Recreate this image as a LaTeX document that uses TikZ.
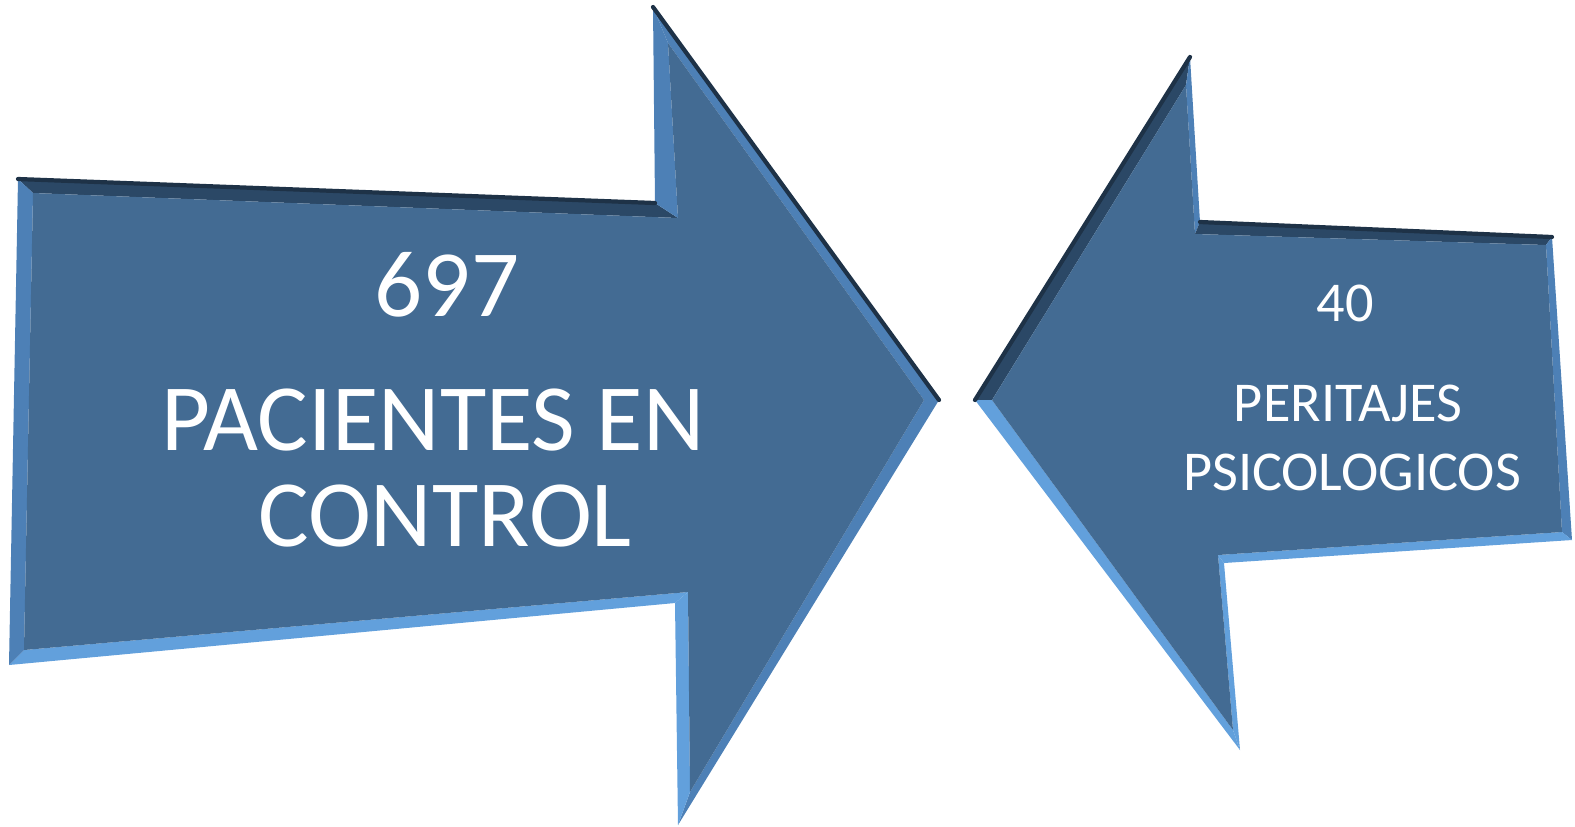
\documentclass[tikz,border=0pt]{standalone}
\usepackage{fontspec}
\setmainfont{Carlito}
\definecolor{faceblue}{HTML}{436B93}
\definecolor{darkblue}{HTML}{2B4866}
\definecolor{midblue}{HTML}{4D80B6}
\definecolor{lightblue}{HTML}{62A0DC}
\definecolor{deepblue}{HTML}{1E3247}
\begin{document}
\begin{tikzpicture}[
    x=0.01cm, y=-0.01cm,
    face/.style={fill=faceblue},
    beveldark/.style={fill=darkblue},
    bevelmid/.style={fill=midblue},
    bevellight/.style={fill=lightblue},
    rim/.style={draw=deepblue, line width=1.2pt, line cap=round},
    label/.style={text=white, anchor=base, inner sep=0pt}
]
    \useasboundingbox (0,0) rectangle (1575,826);

    % left arrow, outer and inner corners
    \coordinate (L1) at (18,179);   \coordinate (l1) at (33,193);
    \coordinate (L2) at (655,203);  \coordinate (l2) at (678,218);
    \coordinate (L3) at (653,7);    \coordinate (l3) at (668,43);
    \coordinate (L4) at (939,400);  \coordinate (l4) at (924,400);
    \coordinate (L5) at (678,825);  \coordinate (l5) at (690,792);
    \coordinate (L6) at (675,603);  \coordinate (l6) at (688,592);
    \coordinate (L7) at (9,665);    \coordinate (l7) at (24,650);

    \fill[beveldark]  (L1) -- (L2) -- (l2) -- (l1) -- cycle;
    \fill[bevelmid]   (L2) -- (L3) -- (l3) -- (l2) -- cycle;
    \fill[bevelmid]   (L3) -- (L4) -- (l4) -- (l3) -- cycle;
    \fill[bevelmid]   (L4) -- (L5) -- (l5) -- (l4) -- cycle;
    \fill[bevellight] (L5) -- (L6) -- (l6) -- (l5) -- cycle;
    \fill[bevellight] (L6) -- (L7) -- (l7) -- (l6) -- cycle;
    \fill[bevelmid]   (L7) -- (L1) -- (l1) -- (l7) -- cycle;
    \fill[face] (l1) -- (l2) -- (l3) -- (l4) -- (l5) -- (l6) -- (l7) -- cycle;
    \draw[rim] (L1) -- (L2);
    \draw[rim] (L3) -- (L4);

    % right arrow, outer and inner corners
    \coordinate (R1) at (975,400);  \coordinate (r1) at (992,400);
    \coordinate (R2) at (1190,57);  \coordinate (r2) at (1186,85);
    \coordinate (R3) at (1200,222); \coordinate (r3) at (1195,234);
    \coordinate (R4) at (1552,237); \coordinate (r4) at (1546,245);
    \coordinate (R5) at (1572,540); \coordinate (r5) at (1562,532);
    \coordinate (R6) at (1224,563); \coordinate (r6) at (1218,555);
    \coordinate (R7) at (1240,750); \coordinate (r7) at (1233,730);

    \fill[beveldark]  (R1) -- (R2) -- (r2) -- (r1) -- cycle;
    \fill[bevelmid]   (R2) -- (R3) -- (r3) -- (r2) -- cycle;
    \fill[beveldark]  (R3) -- (R4) -- (r4) -- (r3) -- cycle;
    \fill[bevelmid]   (R4) -- (R5) -- (r5) -- (r4) -- cycle;
    \fill[bevellight] (R5) -- (R6) -- (r6) -- (r5) -- cycle;
    \fill[bevellight] (R6) -- (R7) -- (r7) -- (r6) -- cycle;
    \fill[bevellight] (R7) -- (R1) -- (r1) -- (r7) -- cycle;
    \fill[face] (r1) -- (r2) -- (r3) -- (r4) -- (r5) -- (r6) -- (r7) -- cycle;
    \draw[rim] (R1) -- (R2);
    \draw[rim] (R3) -- (R4);

    % texts
    \node[label, font=\fontsize{27}{30}\selectfont] (count) at (447,316) {697};
    \node[label, font=\fontsize{27}{30}\selectfont] (patients) at (433,450) {PACIENTES EN};
    \node[label, font=\fontsize{27}{30}\selectfont] (control) at (445,546) {CONTROL};

    \node[label, font=\fontsize{16}{18}\selectfont] (reports) at (1345,321) {40};
    \node[label, font=\fontsize{16}{18}\selectfont] (expert) at (1348,421) {PERITAJES};
    \node[label, font=\fontsize{16}{18}\selectfont] (psych) at (1352,490) {PSICOLOGICOS};
\end{tikzpicture}
\end{document}
